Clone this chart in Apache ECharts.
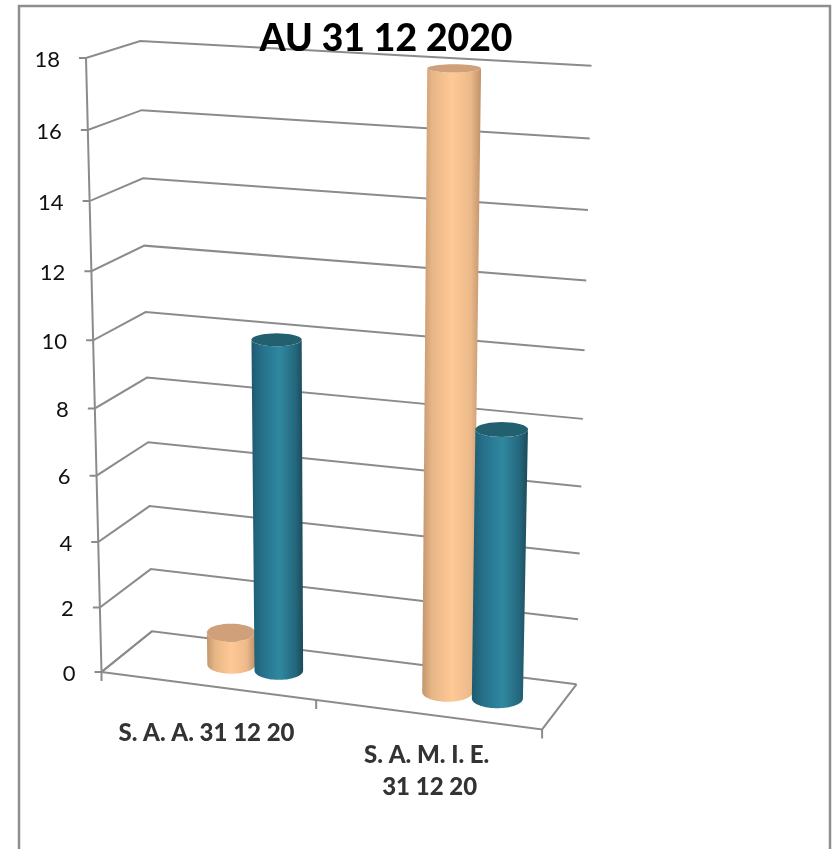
<!DOCTYPE html>
<html>
<head>
<meta charset="utf-8">
<title>AU 31 12 2020</title>
<style>html,body{margin:0;padding:0;background:#fff}#chart{width:834px;height:849px}</style>
<script src="https://cdn.jsdelivr.net/npm/echarts@6/dist/echarts.min.js"></script>
</head>
<body>
<div id="chart"></div>
<script>
const chartTitle = 'AU 31 12 2020';
const categories = ['S. A. A. 31 12 20', 'S. A. M. I. E.\n31 12 20'];
const seriesOrange = [1, 18];
const seriesTeal = [10, 8];
const axisTicks = [0, 2, 4, 6, 8, 10, 12, 14, 16, 18];

// Perspective projection of the unit box: x along the floor, y up, z into the depth.
const W = { a: -0.05, b: -0.06, c: 0.042 };
const origin = [101.5, 672];
const axisX = [413.5, 21];
const axisY = [-20.66, -617.5];
const axisZ = [56.9, -14.2];
function project(x, y, z) {
  const d = 1 + W.a * x + W.b * y + W.c * z;
  return [
    (origin[0] + x * axisX[0] + y * axisY[0] + z * axisZ[0]) / d,
    (origin[1] + x * axisX[1] + y * axisY[1] + z * axisZ[1]) / d
  ];
}
// Library scale position to unit box coordinates.
function toUnit(api, params, cat, value) {
  const p = api.coord([cat, value]);
  const cs = params.coordSys;
  return [(p[0] - cs.x) / cs.width, 1 - (p[1] - cs.y) / cs.height];
}

const LINE = '#8b8b8b';
const lineStyle = { stroke: LINE, lineWidth: 2, fill: null };
const polyline = pts => ({ type: 'polyline', silent: true, shape: { points: pts }, style: lineStyle });

function renderFrame(params, api) {
  const u = toUnit(api, params, 0, api.value(1));
  const y = u[1];
  const front = project(0, y, 0);
  const kids = [
    polyline([[front[0] - 7, front[1]], front, project(0, y, 1), project(1, y, 1)]),
    {
      type: 'text', silent: true,
      style: {
        text: String(api.value(1)), x: front[0] - 26, y: front[1] + 1.5,
        textAlign: 'right', textVerticalAlign: 'middle',
        font: '22px Lato, sans-serif', fill: '#111'
      }
    }
  ];
  if (params.dataIndex === 0) {
    const top = toUnit(api, params, 0, axisTicks[axisTicks.length - 1])[1];
    kids.push(polyline([project(0, 0, 0), project(0, top, 0)]));
    kids.push(polyline([project(0, 0, 0), project(1, 0, 0), project(1, 0, 1)]));
    kids.push(polyline([project(0, 0, 0), project(0, 0, 1)]));
    [0, 0.5, 1].forEach(x => {
      const p = project(x, 0, 0);
      kids.push(polyline([p, [p[0], p[1] + 9]]));
    });
  }
  return { type: 'group', children: kids };
}

function cylinder(offset, colors) {
  const radiusX = 0.057, radiusZ = 0.22, centreZ = 0.5, steps = 40;
  return function (params, api) {
    const cat = api.value(0);
    const u = toUnit(api, params, cat, api.value(1));
    const cx = u[0] + offset, h = u[1];
    // Each end is an upright ellipse sized by the projected radius at its height.
    const ring = (y, from, to) => {
      const c = project(cx, y, centreZ);
      const rx = (project(cx + radiusX, y, centreZ)[0] - project(cx - radiusX, y, centreZ)[0]) / 2;
      const ry = (project(cx, y, centreZ - radiusZ)[1] - project(cx, y, centreZ + radiusZ)[1]) / 2;
      const pts = [];
      for (let i = 0; i <= steps; i++) {
        const t = from + (to - from) * i / steps;
        pts.push([c[0] + rx * Math.cos(t), c[1] + ry * Math.sin(t)]);
      }
      return pts;
    };
    const side = ring(0, 0, Math.PI).concat(ring(h, Math.PI, 0));
    const cap = ring(h, 0, Math.PI * 2);
    const gradient = new echarts.graphic.LinearGradient(0, 0, 1, 0, colors.body);
    return {
      type: 'group',
      children: [
        { type: 'polygon', silent: true, shape: { points: side }, style: { fill: gradient } },
        { type: 'polygon', silent: true, shape: { points: cap }, style: { fill: colors.cap } }
      ]
    };
  };
}

function renderCategoryLabel(params, api) {
  const cat = api.value(0);
  const u = toUnit(api, params, cat, 0);
  const p = project(u[0], 0, 0);
  const lines = categories[cat].split('\n');
  return {
    type: 'group',
    children: lines.map((text, i) => ({
      type: 'text', silent: true,
      style: {
        text, x: p[0] + (cat === 0 ? -1 : -1 + i * 3),
        y: (cat === 0 ? p[1] + 47 : p[1] + 41) + i * 32,
        textAlign: 'center', textVerticalAlign: 'middle',
        font: '900 24px Lato, sans-serif', fill: '#333'
      }
    }))
  };
}

const orangeColors = {
  cap: '#cfa079',
  body: [
    { offset: 0, color: '#c3966f' }, { offset: 0.16, color: '#e6b585' },
    { offset: 0.5, color: '#ffc995' }, { offset: 0.82, color: '#ecba8a' },
    { offset: 1, color: '#c0926a' }
  ]
};
const tealColors = {
  cap: '#22606f',
  body: [
    { offset: 0, color: '#1d5a70' }, { offset: 0.2, color: '#26708a' },
    { offset: 0.55, color: '#2f88a0' }, { offset: 0.85, color: '#25677d' },
    { offset: 1, color: '#1b4a58' }
  ]
};

const chart = echarts.init(document.getElementById('chart'), null, { renderer: 'canvas' });
chart.setOption({
  animation: false,
  backgroundColor: '#ffffff',
  title: {
    text: chartTitle, left: 381, top: 15, textAlign: 'center',
    textStyle: { fontFamily: 'Lato, sans-serif', fontWeight: 900, fontSize: 37.3, color: '#000' }
  },
  graphic: [{
    type: 'rect', silent: true, z: -10,
    shape: { x: 19, y: 6, width: 811, height: 870 },
    style: { fill: '#fff', stroke: '#8e8e8e', lineWidth: 2.5 }
  }],
  grid: { left: 100, top: 100, width: 600, height: 600 },
  xAxis: { type: 'category', data: categories, show: false },
  yAxis: { type: 'value', min: 0, max: 18, interval: 2, show: false },
  series: [
    { type: 'custom', name: 'axes', clip: false, z: 1, renderItem: renderFrame,
      encode: { x: 0, y: 1 }, data: axisTicks.map(v => [0, v]) },
    { type: 'custom', name: 'orange', clip: false, z: 2, renderItem: cylinder(0, orangeColors),
      encode: { x: 0, y: 1 }, data: seriesOrange.map((v, i) => [i, v]) },
    { type: 'custom', name: 'teal', clip: false, z: 3, renderItem: cylinder(0.112, tealColors),
      encode: { x: 0, y: 1 }, data: seriesTeal.map((v, i) => [i, v]) },
    { type: 'custom', name: 'labels', clip: false, z: 4, renderItem: renderCategoryLabel,
      encode: { x: 0, y: 1 }, data: categories.map((c, i) => [i, 0]) }
  ]
});
</script>
</body>
</html>
